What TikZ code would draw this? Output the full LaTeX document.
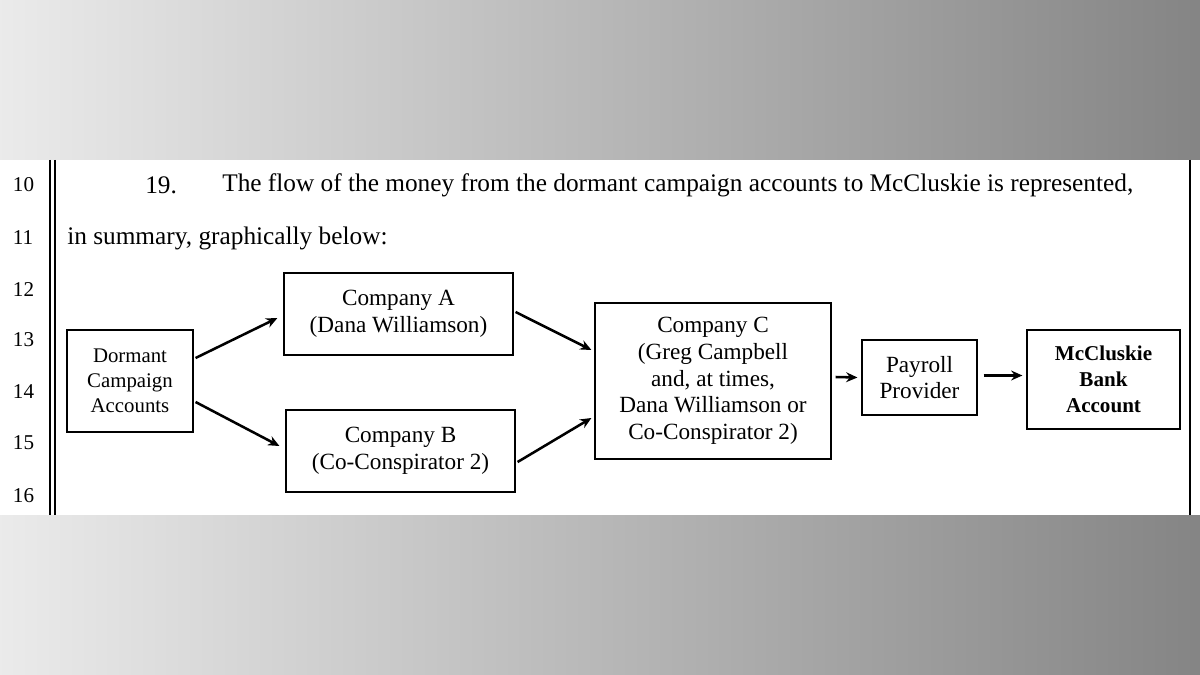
\documentclass[tikz,border=0pt]{standalone}
\usepackage{fontspec}
\setmainfont{Liberation Serif}
\usetikzlibrary{arrows.meta,positioning,calc}
\tikzset{
  box/.style={draw, line width=0.8pt, align=center, inner sep=0pt, font=\fontsize{16.5}{19}\selectfont},
  flow/.style={line width=1.8pt, -{Stealth[length=8pt,width=7pt]}},
  lineno/.style={font=\fontsize{15}{16}\selectfont, anchor=west},
  txt/.style={font=\fontsize{18}{20}\selectfont, anchor=west, inner sep=0pt}
}
\begin{document}
\begin{tikzpicture}[x=0.025cm, y=-0.025cm]
	%% Hintergrund
	\useasboundingbox (0,0) rectangle (1200,675);
	\shade[left color=black!8, right color=black!48] (0,0) rectangle (1200,160);
	\shade[left color=black!8, right color=black!48] (0,515) rectangle (1200,675);
	\fill[white] (0,160) rectangle (1200,515);

	%% Zeilennummern und Rand
	\foreach \n/\y in {10/185, 11/238, 12/290, 13/340, 14/392, 15/443, 16/496}
		\node[lineno] at (8,\y) {\n};
	\draw[line width=0.8pt] (50,160) -- (50,515);
	\draw[line width=0.8pt] (55,160) -- (55,515);
	\draw[line width=0.8pt] (1190,160) -- (1190,515);

	%% Text
	\node[txt] (num) at (145,185) {19.};
	\node[txt] (para) at (222,185) {The flow of the money from the dormant campaign accounts to McCluskie is represented,};
	\node[txt] (para2) at (67,238) {in summary, graphically below:};

	%% Kaesten
	\node[box, minimum width={126*0.7113pt}, minimum height={102*0.7113pt}, font=\fontsize{14.8}{17.8}\selectfont] (dormant) at (130,381) {Dormant\\Campaign\\Accounts};
	\node[box, minimum width={229*0.7113pt}, minimum height={82*0.7113pt}] (compA) at (398.5,314) {Company A\\(Dana Williamson)};
	\node[box, minimum width={229*0.7113pt}, minimum height={82*0.7113pt}] (compB) at (400.5,451) {Company B\\(Co-Conspirator 2)};
	\node[box, minimum width={236*0.7113pt}, minimum height={156*0.7113pt}] (compC) at (713,381) {Company C\\(Greg Campbell\\and, at times,\\Dana Williamson or\\Co-Conspirator 2)};
	\node[box, minimum width={115*0.7113pt}, minimum height={75*0.7113pt}] (payroll) at (919.5,377.5) {Payroll\\Provider};
	\node[box, minimum width={153*0.7113pt}, minimum height={99*0.7113pt}, font=\fontsize{15}{18.5}\selectfont\bfseries] (bank) at (1103.5,379.5) {McCluskie\\Bank\\Account};

	%% Pfeile
	\draw[flow] ($(dormant.east)+(2,-23)$) -- ($(compA.west)+(-6,4)$);
	\draw[flow] ($(dormant.east)+(2,21)$) -- ($(compB.west)+(-6,-5)$);
	\draw[flow] ($(compA.east)+(2,-2)$) -- ($(compC.west)+(-3,-31)$);
	\draw[flow] ($(compB.east)+(2,11)$) -- ($(compC.west)+(-3,37)$);
	\draw[flow] ($(compC.east)+(4,-4)$) -- ($(payroll.west)+(-4,0)$);
	\draw[flow] ($(payroll.east)+(6,-2)$) -- ($(bank.west)+(-4,-4)$);
\end{tikzpicture}
\end{document}
